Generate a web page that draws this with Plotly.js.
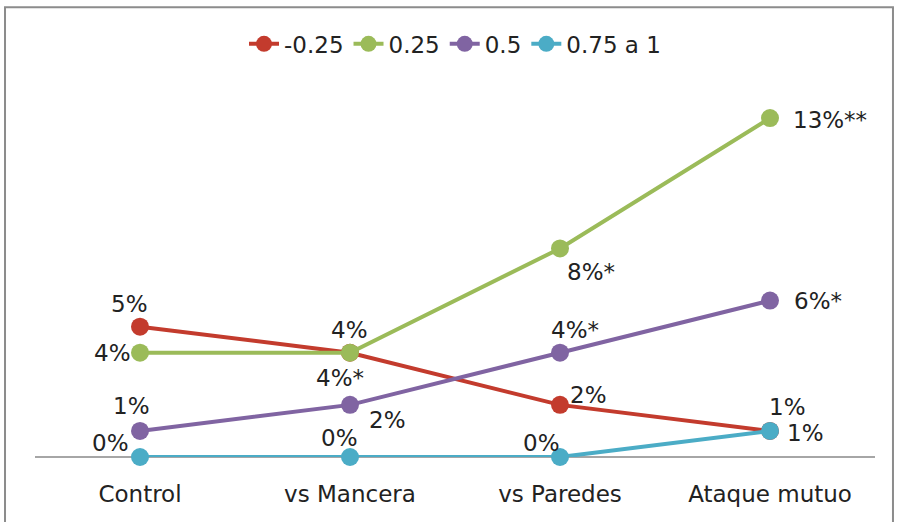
<!DOCTYPE html>
<html>
<head>
<meta charset="utf-8">
<script src="https://cdn.plot.ly/plotly-3.0.1.min.js"></script>
<style>
  html, body { margin: 0; padding: 0; background: #ffffff; }
  #chart { width: 898px; height: 522px; }
</style>
</head>
<body>
<div id="chart"></div>
<script>
// Categories along the x axis
const categories = ['Control', 'vs Mancera', 'vs Paredes', 'Ataque mutuo'];

// Series names (legend)
const seriesNames = ['-0.25', '0.25', '0.5', '0.75 a 1'];

// Percentages per series
const valuesNeg025 = [5, 4, 2, 1];
const values025 = [4, 4, 8, 13];
const values05 = [1, 2, 4, 6];
const values075 = [0, 0, 0, 1];

// Significance marks appended to each label
const starsNeg025 = ['', '', '', ''];
const stars025 = ['', '*', '*', '**'];
const stars05 = ['', '', '*', '*'];
const stars075 = ['', '', '', ''];

const seriesValues = [valuesNeg025, values025, values05, values075];
const seriesStars = [starsNeg025, stars025, stars05, stars075];
const colors = ['#C33B2D', '#9BBB59', '#8064A2', '#4BACC6'];

// Label offsets in pixels from each marker [dx, dy] (screen directions)
const labelOffsets = [
  [[-11, -23], [-1, -23], [28, -10], [17, -24]],
  [[-28, 0], [-10, 25], [31, 24], [60, 2]],
  [[-9, -25], [37, 15], [15, -23], [48, 0]],
  [[-30, -14], [-11, -19], [-19, -14], [35, 2]]
];

const FONT = 'DejaVu Sans, sans-serif';
const FSIZE = 23;

const traces = seriesValues.map((vals, i) => ({
  type: 'scatter',
  mode: 'lines+markers',
  name: seriesNames[i],
  x: categories,
  y: vals,
  cliponaxis: false,
  line: { color: colors[i], width: 4 },
  marker: { color: colors[i], size: 18 },
  hoverinfo: 'skip'
}));

const annotations = [];
seriesValues.forEach((vals, i) => {
  vals.forEach((v, j) => {
    annotations.push({
      x: categories[j],
      y: v,
      xref: 'x',
      yref: 'y',
      text: v + '%' + seriesStars[i][j],
      showarrow: false,
      xshift: labelOffsets[i][j][0],
      yshift: -labelOffsets[i][j][1],
      font: { family: FONT, size: FSIZE, color: '#222222' }
    });
  });
});

const layout = {
  width: 898,
  height: 522,
  margin: { l: 35, r: 23, t: 79, b: 65 },
  paper_bgcolor: '#ffffff',
  plot_bgcolor: '#ffffff',
  showlegend: true,
  legend: {
    orientation: 'h',
    x: 0.5,
    xanchor: 'center',
    y: 1.093,
    yanchor: 'middle',
    font: { family: FONT, size: FSIZE, color: '#222222' },
    itemclick: false
  },
  xaxis: {
    type: 'category',
    range: [-0.5, 3.5],
    showgrid: false,
    zeroline: false,
    showline: false,
    ticks: '',
    ticklabelstandoff: 21,
    tickfont: { family: FONT, size: FSIZE, color: '#222222' },
    fixedrange: true
  },
  yaxis: {
    range: [0, 14.5],
    showgrid: false,
    zeroline: true,
    zerolinecolor: '#A6A6A6',
    zerolinewidth: 2,
    showticklabels: false,
    ticks: '',
    fixedrange: true
  },
  shapes: [
    {
      type: 'rect',
      xref: 'paper',
      yref: 'paper',
      x0: -0.0357,
      x1: 1.0214,
      y0: -0.2,
      y1: 1.19,
      line: { color: '#8C8C8C', width: 2 },
      layer: 'below'
    }
  ],
  annotations: annotations
};

Plotly.newPlot('chart', traces, layout, { displayModeBar: false, staticPlot: true });
</script>
</body>
</html>
